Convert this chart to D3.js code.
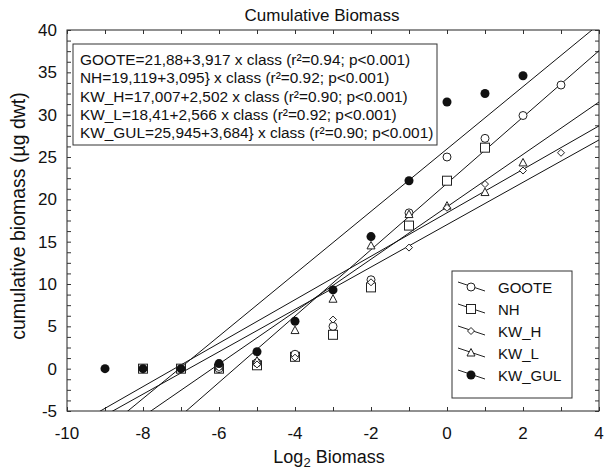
<!DOCTYPE html>
<html>
<head>
<meta charset="utf-8">
<script src="https://cdn.jsdelivr.net/npm/d3@7.9.0/dist/d3.min.js"></script>
<style>
  body { margin: 0; background: #fff; }
  svg { font-family: "Liberation Sans", Arial, sans-serif; }
</style>
</head>
<body>
<svg id="chart" width="606" height="472"></svg>
<script>
// classes (log2 biomass) and cumulative biomass per site
const gooteX = [-6, -5, -4, -3, -2, -1, 0, 1, 2, 3];
const gooteY = [0, 0.7, 1.7, 5.0, 10.5, 18.4, 25.0, 27.2, 29.9, 33.5];
const nhX = [-8, -7, -6, -5, -4, -3, -2, -1, 0, 1];
const nhY = [0, 0, 0, 0.4, 1.4, 4.0, 9.6, 16.9, 22.2, 26.1];
const kwhX = [-6, -5, -4, -3, -2, -1, 0, 1, 2, 3];
const kwhY = [0.1, 0.5, 1.3, 5.8, 10.2, 14.3, 19.0, 21.8, 23.4, 25.5];
const kwlX = [-6, -5, -4, -3, -2, -1, 0, 1, 2];
const kwlY = [0.3, 0.9, 4.5, 8.2, 14.5, 18.2, 19.2, 20.8, 24.3];
const gulX = [-9, -8, -7, -6, -5, -4, -3, -2, -1, 0, 1, 2];
const gulY = [0, 0, 0, 0.6, 2.0, 5.6, 9.3, 15.6, 22.2, 31.5, 32.5, 34.6];

// regression fits: intercept + slope * class
const seriesNames = ['GOOTE', 'NH', 'KW_H', 'KW_L', 'KW_GUL'];
const intercepts = [21.88, 19.119, 17.007, 18.41, 25.945];
const slopes = [3.917, 3.095, 2.502, 2.566, 3.684];
const equations = [
  'GOOTE=21,88+3,917 x class (r\u00b2=0.94; p<0.001)',
  'NH=19,119+3,095} x class (r\u00b2=0.92; p<0.001)',
  'KW_H=17,007+2,502 x class (r\u00b2=0.90; p<0.001)',
  'KW_L=18,41+2,566 x class (r\u00b2=0.92; p<0.001)',
  'KW_GUL=25,945+3,684} x class (r\u00b2=0.90; p<0.001)'
];

const xTicks = [-10, -8, -6, -4, -2, 0, 2, 4];
const yTicks = [-5, 0, 5, 10, 15, 20, 25, 30, 35, 40];

const svg = d3.select('#chart');
const pLeft = 67, pRight = 599, pTop = 30, pBottom = 411;

const x = d3.scaleLinear().domain([-10, 4]).range([pLeft, pRight]);
const y = d3.scaleLinear().domain([-5, 40]).range([pBottom, pTop]);

svg.append('defs').append('clipPath').attr('id', 'plot')
  .append('rect').attr('x', pLeft).attr('y', pTop)
  .attr('width', pRight - pLeft).attr('height', pBottom - pTop);

// frame
svg.append('rect')
  .attr('x', pLeft).attr('y', pTop)
  .attr('width', pRight - pLeft).attr('height', pBottom - pTop)
  .attr('fill', 'none').attr('stroke', '#222').attr('stroke-width', 1);

// axes with inward ticks
const tickLen = 4;
svg.append('g').attr('transform', `translate(0,${pBottom})`)
  .call(d3.axisBottom(x).tickValues(d3.range(-10, 5, 1)).tickSize(-tickLen).tickFormat(''))
  .call(g => g.select('.domain').remove());
svg.append('g').attr('transform', `translate(0,${pTop})`)
  .call(d3.axisTop(x).tickValues(d3.range(-10, 5, 1)).tickSize(-tickLen).tickFormat(''))
  .call(g => g.select('.domain').remove());
svg.append('g').attr('transform', `translate(${pLeft},0)`)
  .call(d3.axisLeft(y).tickValues(d3.range(-5, 40.01, 1.25)).tickSize(-tickLen).tickFormat(''))
  .call(g => g.select('.domain').remove());
svg.append('g').attr('transform', `translate(${pRight},0)`)
  .call(d3.axisRight(y).tickValues(d3.range(-5, 40.01, 1.25)).tickSize(-tickLen).tickFormat(''))
  .call(g => g.select('.domain').remove());
svg.selectAll('.tick line').attr('stroke', '#333');

// tick labels
svg.append('g').selectAll('text').data(xTicks).join('text')
  .attr('x', d => x(d)).attr('y', pBottom + 28)
  .attr('text-anchor', 'middle').attr('font-size', 17).attr('fill', '#111')
  .text(d => d);
svg.append('g').selectAll('text').data(yTicks).join('text')
  .attr('x', pLeft - 10).attr('y', d => y(d) + 6)
  .attr('text-anchor', 'end').attr('font-size', 17).attr('fill', '#111')
  .text(d => d);

// titles
svg.append('text').attr('x', 322).attr('y', 21).attr('text-anchor', 'middle')
  .attr('font-size', 17).attr('fill', '#111').text('Cumulative Biomass');
const xl = svg.append('text').attr('x', 329).attr('y', 463).attr('text-anchor', 'middle')
  .attr('font-size', 18).attr('fill', '#111');
xl.append('tspan').text('Log');
xl.append('tspan').attr('dy', 4).attr('font-size', 13).text('2');
xl.append('tspan').attr('dy', -4).text(' Biomass');
svg.append('text').attr('transform', 'translate(25,216) rotate(-90)')
  .attr('text-anchor', 'middle').attr('font-size', 19.5).attr('fill', '#111')
  .text('cumulative biomass (\u00b5g dwt)');

// regression lines
const plot = svg.append('g').attr('clip-path', 'url(#plot)');
seriesNames.forEach((name, i) => {
  const xs = [-10, 4];
  plot.append('line')
    .attr('x1', x(xs[0])).attr('y1', y(intercepts[i] + slopes[i] * xs[0]))
    .attr('x2', x(xs[1])).attr('y2', y(intercepts[i] + slopes[i] * xs[1]))
    .attr('stroke', '#111').attr('stroke-width', 1);
});

// marker drawing
function marker(g, kind, cx, cy) {
  if (kind === 'circle') {
    g.append('circle').attr('cx', cx).attr('cy', cy).attr('r', 4)
      .attr('fill', '#fff').attr('stroke', '#222').attr('stroke-width', 1);
  } else if (kind === 'square') {
    g.append('rect').attr('x', cx - 4.5).attr('y', cy - 4.5).attr('width', 9).attr('height', 9)
      .attr('fill', '#fff').attr('stroke', '#222').attr('stroke-width', 1);
  } else if (kind === 'diamond') {
    g.append('path').attr('d', `M${cx},${cy - 3.5}L${cx + 3.5},${cy}L${cx},${cy + 3.5}L${cx - 3.5},${cy}Z`)
      .attr('fill', '#fff').attr('stroke', '#222').attr('stroke-width', 1);
  } else if (kind === 'triangle') {
    g.append('path').attr('d', `M${cx},${cy - 4.5}L${cx + 4},${cy + 3}L${cx - 4},${cy + 3}Z`)
      .attr('fill', '#fff').attr('stroke', '#222').attr('stroke-width', 1);
  } else {
    g.append('circle').attr('cx', cx).attr('cy', cy).attr('r', 4.5).attr('fill', '#111');
  }
}

const series = [
  { xs: nhX, ys: nhY, kind: 'square' },
  { xs: gooteX, ys: gooteY, kind: 'circle' },
  { xs: kwlX, ys: kwlY, kind: 'triangle' },
  { xs: kwhX, ys: kwhY, kind: 'diamond' },
  { xs: gulX, ys: gulY, kind: 'filled' }
];
const pts = svg.append('g');
series.forEach(s => {
  s.xs.forEach((v, i) => marker(pts, s.kind, x(v), y(s.ys[i])));
});

// equation box
const eq = svg.append('g');
eq.append('rect').attr('x', 73).attr('y', 44).attr('width', 364).attr('height', 101)
  .attr('fill', '#fff').attr('stroke', '#333').attr('stroke-width', 1);
eq.selectAll('text').data(equations).join('text')
  .attr('x', 80).attr('y', (d, i) => 65 + i * 18.3)
  .attr('font-size', 15.4).attr('fill', '#111')
  .text(d => d);

// legend
const kinds = ['circle', 'square', 'diamond', 'triangle', 'filled'];
const lg = svg.append('g');
lg.append('rect').attr('x', 452).attr('y', 271).attr('width', 120).attr('height', 127)
  .attr('fill', '#fff').attr('stroke', '#333').attr('stroke-width', 1);
seriesNames.forEach((name, i) => {
  const cy = 287 + i * 22;
  lg.append('line').attr('x1', 458).attr('y1', cy - 5).attr('x2', 485).attr('y2', cy + 4)
    .attr('stroke', '#222').attr('stroke-width', 1);
  marker(lg, kinds[i], 471, cy);
  lg.append('text').attr('x', 498).attr('y', cy + 6).attr('font-size', 15).attr('fill', '#111')
    .text(name);
});
</script>
</body>
</html>
